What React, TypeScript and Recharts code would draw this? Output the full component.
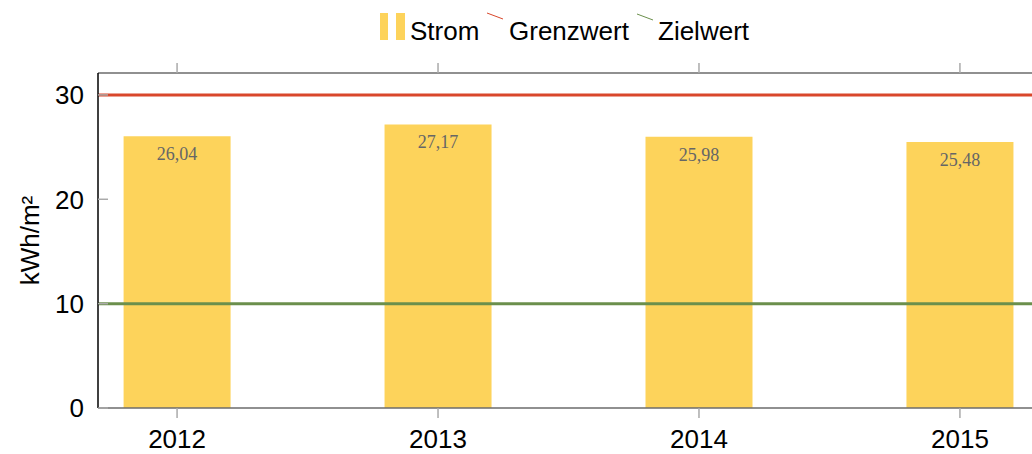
import { BarChart, Bar, XAxis, YAxis, ReferenceLine, LabelList } from 'recharts';

const years = [2012, 2013, 2014, 2015];
const strom = [26.04, 27.17, 25.98, 25.48];
const grenzwert = 30;
const zielwert = 10;
const yTicks = [0, 10, 20, 30];

const data = years.map((year, i) => ({ year, strom: strom[i] }));

const FONT = '"Liberation Sans", Arial, Helvetica, sans-serif';
const BAR_COLOR = '#fdd35b';
const RED = '#d9472b';
const GREEN = '#6b8f4c';

function LegendRow() {
  return (
    <div
      style={{
        position: 'absolute', left: 0, top: 0, width: 1032, height: 50,
        fontFamily: FONT, fontSize: 26, color: '#000', pointerEvents: 'none',
      }}
    >
      <svg width={1032} height={50} style={{ position: 'absolute', left: 0, top: 0 }}>
        <rect x={380} y={13} width={8} height={27} fill={BAR_COLOR} />
        <rect x={396} y={13} width={9} height={27} fill={BAR_COLOR} />
        <line x1={487} y1={13} x2={503} y2={19} stroke={RED} strokeWidth={1} />
        <line x1={637} y1={14} x2={653} y2={20} stroke={GREEN} strokeWidth={1} />
      </svg>
      <span style={{ position: 'absolute', left: 410, top: 16, lineHeight: '30px' }}>Strom</span>
      <span style={{ position: 'absolute', left: 509, top: 16, lineHeight: '30px' }}>Grenzwert</span>
      <span style={{ position: 'absolute', left: 658, top: 16, lineHeight: '30px' }}>Zielwert</span>
    </div>
  );
}

export default function App() {
  return (
    <div style={{ position: 'absolute', left: 0, top: 0, width: 1032, height: 454, overflow: 'hidden', background: '#fff' }}>
      <LegendRow />
      <BarChart
        width={1045}
        height={454}
        data={data}
        margin={{ top: 72, right: 6, bottom: 0, left: 0 }}
      >
        <XAxis
          xAxisId="top"
          orientation="top"
          dataKey="year"
          type="number"
          domain={[2011.697, 2015.303]}
          ticks={years}
          allowDataOverflow
          height={1}
          tickSize={10}
          tickFormatter={() => ''}
          axisLine={{ stroke: '#6b6b6b', strokeWidth: 1.5 }}
          tickLine={{ stroke: '#aaa', strokeWidth: 1.5 }}
        />
        <XAxis
          dataKey="year"
          type="number"
          domain={[2011.697, 2015.303]}
          ticks={years}
          allowDataOverflow
          height={46}
          tickSize={10}
          tickMargin={12}
          axisLine={{ stroke: '#6b6b6b', strokeWidth: 1.5 }}
          tickLine={{ stroke: '#aaa', strokeWidth: 1.5 }}
          tick={{ fill: '#000', fontSize: 26, fontFamily: FONT }}
        />
        <YAxis
          type="number"
          domain={[0, 32.1]}
          ticks={yTicks}
          allowDataOverflow
          width={98}
          tickSize={-10}
          tickMargin={24}
          axisLine={{ stroke: '#000', strokeWidth: 1.5 }}
          tickLine={{ stroke: '#aaa', strokeWidth: 1.5 }}
          tick={{ fill: '#000', fontSize: 26, fontFamily: FONT }}
          label={{
            value: 'kWh/m²',
            angle: -90,
            position: 'center',
            dx: -19,
            style: { fill: '#000', fontSize: 26, fontFamily: FONT },
          }}
        />
        <Bar dataKey="strom" fill={BAR_COLOR} barSize={107} isAnimationActive={false}>
          <LabelList
            dataKey="strom"
            position="insideTop"
            offset={11}
            formatter={(v: number) => v.toFixed(2).replace('.', ',')}
            style={{ fill: '#666', fontSize: 18, fontFamily: '"Liberation Serif", "DejaVu Serif", serif' }}
          />
        </Bar>
        <ReferenceLine y={grenzwert} stroke={RED} strokeWidth={3} />
        <ReferenceLine y={zielwert} stroke={GREEN} strokeWidth={3} />
      </BarChart>
    </div>
  );
}
